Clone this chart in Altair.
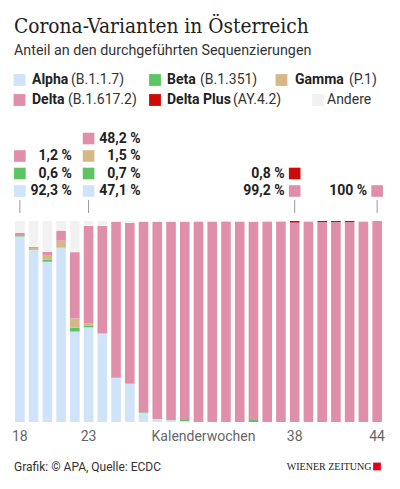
import altair as alt
import pandas as pd

# ---------------- data ----------------
weeks = list(range(18, 45))
variants = ["Alpha", "Beta", "Gamma", "Delta", "Delta Plus", "Andere"]
codes = ["(B.1.1.7)", "(B.1.351)", "(P.1)", "(B.1.617.2)", "(AY.4.2)", ""]
colors = ["#cfe3f9", "#5cc463", "#d6b888", "#e08fab", "#cc0a0a", "#f2f2f2"]

alpha = [92.3, 85.6, 79.7, 86.7, 45.0, 47.1, 44.0, 22.0, 19.0, 4.6, 1.5, 1.0, 0.5,
         0, 0, 0, 0, 0, 0, 0, 0, 0, 0, 0, 0, 0, 0]
beta = [0.6, 0, 1.0, 0, 2.0, 0.7, 0, 0, 0, 0.3, 0, 0, 0.5,
        0, 0, 0, 0, 1.0, 0, 0, 0, 0, 0, 0, 0, 0, 0]
gamma = [0, 1.0, 2.0, 3.5, 4.5, 1.5, 0, 0, 0, 0, 0, 0, 0,
         0, 0, 0, 0, 0, 0, 0, 0, 0, 0, 0, 0, 0, 0]
delta = [1.2, 0.5, 2.0, 5.0, 33.0, 48.2, 53.5, 77.5, 80.0, 94.6, 98.0, 98.5, 98.5,
         99.7, 99.7, 99.8, 99.7, 98.5, 99.8, 99.8, 99.2, 99.8, 99.5, 99.5, 99.5, 99.8, 100.0]
delta_plus = [0, 0, 0, 0, 0, 0, 0, 0, 0, 0, 0, 0, 0,
              0, 0, 0, 0, 0, 0, 0, 0.8, 0, 0.5, 0.5, 0.5, 0, 0]

annot_weeks = [18, 23, 38, 44]
annot_side = ["left", "left", "right", "right"]

title = "Corona-Varianten in Österreich"
subtitle = "Anteil an den durchgeführten Sequenzierungen"
source = "Grafik: © APA, Quelle: ECDC"
brand = "WIENER ZEITUNG"
axis_title = "Kalenderwochen"
axis_values = [18, 23, 38, 44]

# ---------------- tables ----------------
series = [alpha, beta, gamma, delta, delta_plus]
rows = []
for i, w in enumerate(weeks):
    vals = [s[i] for s in series]
    andere = round(max(0.0, 100 - sum(vals)), 1)
    for k, v in enumerate(vals + [andere]):
        rows.append({"week": w, "variant": variants[k], "idx": k, "value": v})
bars_df = pd.DataFrame(rows)


def fmt(v):
    return ("%d %%" % v) if float(v).is_integer() else ("%.1f %%" % v).replace(".", ",")


arows = []
for w, side in zip(annot_weeks, annot_side):
    i = weeks.index(w)
    r = 0
    for k, s in enumerate(series):
        if s[i] > 0:
            arows.append({"week": w, "variant": variants[k], "row": r,
                          "label": fmt(s[i]), "side": side})
            r += 1
annot_df = pd.DataFrame(arows)

# legend layout (pixel positions relative to plot origin)
leg_sq_x = [6.5, 142, 268.5, 6.5, 142, 305]
leg_y = [-141, -141, -141, -121, -121, -121]
leg_name_x = [19, 154, 282, 19, 154, 314]
leg_code_x = [58, 187, 336, 55, 220, 314]
leg_rows = []
for k, v in enumerate(variants):
    bold = v if v != "Andere" else ""
    reg = codes[k] if v != "Andere" else v
    leg_rows.append({"variant": v, "sx": leg_sq_x[k], "y": leg_y[k],
                     "nx": leg_name_x[k], "cx": leg_code_x[k],
                     "bold": bold, "reg": reg})
leg_df = pd.DataFrame(leg_rows)

FONT = "Roboto"
color_enc = alt.Color("variant:N", scale=alt.Scale(domain=variants, range=colors), legend=None)
xscale = alt.Scale(domain=weeks, paddingInner=0.3, paddingOuter=0.15)

bars = alt.Chart(bars_df).mark_bar().encode(
    x=alt.X("week:O", scale=xscale,
            axis=alt.Axis(values=axis_values, labelAngle=0, ticks=False, domain=False,
                          grid=False, labelFont=FONT, labelFontSize=14, labelColor="#666",
                          labelPadding=7, title=axis_title, titleFont=FONT,
                          titleFontSize=14, titleFontWeight="normal", titleColor="#666",
                          titleX=190, titleY=7, titleBaseline="top")),
    y=alt.Y("value:Q", stack="zero", scale=alt.Scale(domain=[0, 100]), axis=None),
    color=color_enc,
    order=alt.Order("idx:Q", sort="ascending"),
)

ticks = alt.Chart(pd.DataFrame({"week": annot_weeks})).mark_rule(
    color="#999", strokeWidth=1).encode(
    x=alt.X("week:O", scale=xscale), y=alt.value(-21), y2=alt.value(-8))

annot_base = alt.Chart(annot_df).transform_calculate(ypx="-30 - datum.row * 17.5")
annot_sq = annot_base.mark_square(size=135, opacity=1).encode(
    x=alt.X("week:O", scale=xscale), y=alt.Y("ypx:Q", scale=None), color=color_enc)
annot_left = annot_base.transform_filter("datum.side == 'left'").mark_text(
    align="right", baseline="middle", dx=52, font=FONT, fontSize=14,
    fontWeight="bold", color="#222").encode(
    x=alt.X("week:O", scale=xscale), y=alt.Y("ypx:Q", scale=None), text="label:N")
annot_right = annot_base.transform_filter("datum.side == 'right'").mark_text(
    align="right", baseline="middle", dx=-10, font=FONT, fontSize=14,
    fontWeight="bold", color="#222").encode(
    x=alt.X("week:O", scale=xscale), y=alt.Y("ypx:Q", scale=None), text="label:N")

leg = alt.Chart(leg_df)
leg_sq = leg.mark_square(size=140, opacity=1).encode(
    x=alt.X("sx:Q", scale=None), y=alt.Y("y:Q", scale=None), color=color_enc)
leg_name = leg.mark_text(align="left", baseline="middle", font=FONT, fontSize=14,
                         fontWeight="bold", color="#222").encode(
    x=alt.X("nx:Q", scale=None), y=alt.Y("y:Q", scale=None), text="bold:N")
leg_code = leg.mark_text(align="left", baseline="middle", font=FONT, fontSize=14,
                         color="#333").encode(
    x=alt.X("cx:Q", scale=None), y=alt.Y("y:Q", scale=None), text="reg:N")


def label(txt, x, y, **kw):
    return alt.Chart(pd.DataFrame({"t": [txt]})).mark_text(**kw).encode(
        text="t:N", x=alt.value(x), y=alt.value(y))


t_title = label(title, 1, -188, align="left", baseline="alphabetic",
                font="DejaVu Serif Condensed, DejaVu Serif", fontSize=20.7, color="#222")
t_sub = label(subtitle, 1, -166, align="left", baseline="alphabetic",
              font=FONT, fontSize=14.3, color="#333")
t_src = label(source, 1, 250, align="left", baseline="alphabetic",
              font=FONT, fontSize=12, color="#333")
t_brand = label(brand, 358.5, 249, align="right", baseline="alphabetic",
                font="Liberation Serif", fontSize=10, color="#222")
brand_sq = alt.Chart(pd.DataFrame({"t": [0]})).mark_square(
    size=60, color="#e2001a", opacity=1).encode(x=alt.value(364), y=alt.value(245.5))

chart = alt.layer(
    bars, ticks, annot_sq, annot_left, annot_right,
    leg_sq, leg_name, leg_code, t_title, t_sub, t_src, t_brand, brand_sq
).properties(
    width=371, height=201,
    padding={"left": 5, "top": 213, "right": 6, "bottom": 55},
    autosize=alt.AutoSizeParams(type="none"),
    background="white",
).configure_view(stroke=None)

chart.save("out.html", embed_options={"renderer": "svg", "actions": False})
